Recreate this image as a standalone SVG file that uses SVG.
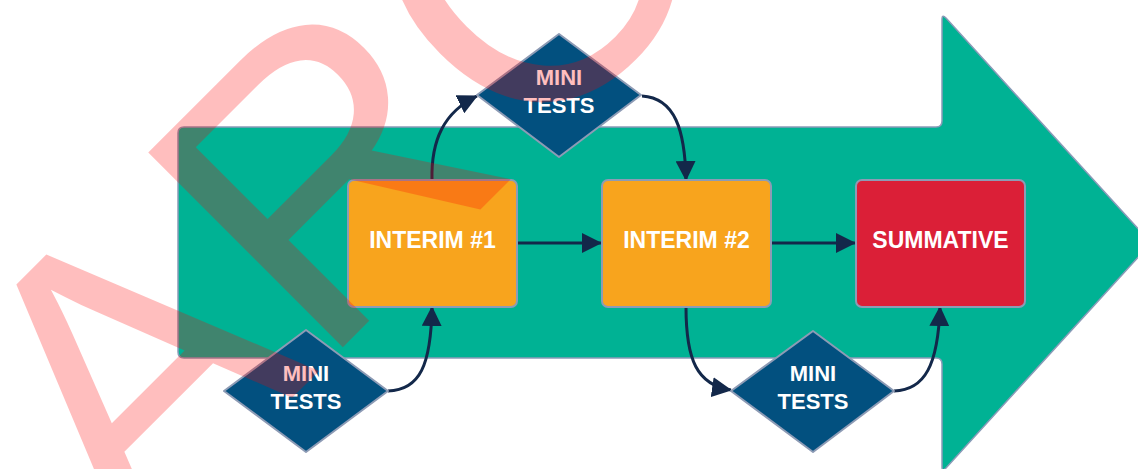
<svg xmlns="http://www.w3.org/2000/svg" width="1138" height="469" viewBox="0 0 1138 469">
<style>
.box{stroke:#8d9bb5;stroke-width:2}
.orange{fill:#f8a41d}
.red{fill:#db1f37}
.dia{fill:#02507f;stroke:#8d9bb5;stroke-width:2;stroke-linejoin:round}
.lbl{font-family:"Liberation Sans",Arial,sans-serif;font-weight:bold;fill:#ffffff;text-anchor:middle}
.big{font-size:23px}
.sm{font-size:22px}
.con{fill:none;stroke:#13284a;stroke-width:3}
</style>
<defs>
<marker id="ah" markerUnits="userSpaceOnUse" markerWidth="20" markerHeight="20" viewBox="0 0 20 20" refX="19" refY="10" orient="auto">
<path d="M0,0 L20,10 L0,20 Z" fill="#13284a"/>
</marker>
</defs>
<rect width="1138" height="469" fill="#ffffff"/>
<g id="bigarrow">
<path d="M184,127 L936,127 Q942,127 942,121 L942,19 Q942,14 946,18 L1151,243 L946,468 Q942,472 942,467 L942,364 Q942,358 936,358 L184,358 Q178,358 178,352 L178,133 Q178,127 184,127 Z" fill="#00b294" stroke="#8a9bb8" stroke-width="1.5"/>
</g>
<g id="connectors">
<path class="con" d="M517,243 L601,243" marker-end="url(#ah)"/>
<path class="con" d="M771,243 L855,243" marker-end="url(#ah)"/>
<path class="con" d="M432,180 C431,140 444,112 477,96" marker-end="url(#ah)"/>
<path class="con" d="M642,96 C675,98 685,130 686,180" marker-end="url(#ah)"/>
<path class="con" d="M388,391 C420,390 431,365 432,307" marker-end="url(#ah)"/>
<path class="con" d="M686,307 C686,360 697,385 731,390" marker-end="url(#ah)"/>
<path class="con" d="M894,391 C925,390 938,365 940,307" marker-end="url(#ah)"/>
</g>
<g id="interim1">
<rect class="box orange" x="348" y="180" width="169" height="127" rx="6"/>
<text class="lbl big" x="432.5" y="247.5">INTERIM #1</text>
</g>
<g id="interim2">
<rect class="box orange" x="602" y="180" width="169" height="127" rx="6"/>
<text class="lbl big" x="686.5" y="247.5">INTERIM #2</text>
</g>
<g id="summative">
<rect class="box red" x="856" y="180" width="169" height="127" rx="6"/>
<text class="lbl big" x="940.5" y="247.5">SUMMATIVE</text>
</g>
<g id="mini-top">
<polygon class="dia" points="559,34 641,95 559,157 477,95"/>
<text class="lbl sm" x="559" y="85">MINI</text>
<text class="lbl sm" x="559" y="113">TESTS</text>
</g>
<g id="mini-bottom-left">
<polygon class="dia" points="306,330 388,391 306,452 224,391"/>
<text class="lbl sm" x="306" y="381">MINI</text>
<text class="lbl sm" x="306" y="409">TESTS</text>
</g>
<g id="mini-bottom-right">
<polygon class="dia" points="813,331 894,391 813,452 731,391"/>
<text class="lbl sm" x="813" y="381">MINI</text>
<text class="lbl sm" x="813" y="409">TESTS</text>
</g>
<g id="watermark" opacity="0.25">
<text x="0" y="0" transform="translate(131,559) rotate(-45)" font-family="Liberation Sans, Arial, sans-serif" font-size="400" fill="#ff0000">ARC</text>
</g>
</svg>
